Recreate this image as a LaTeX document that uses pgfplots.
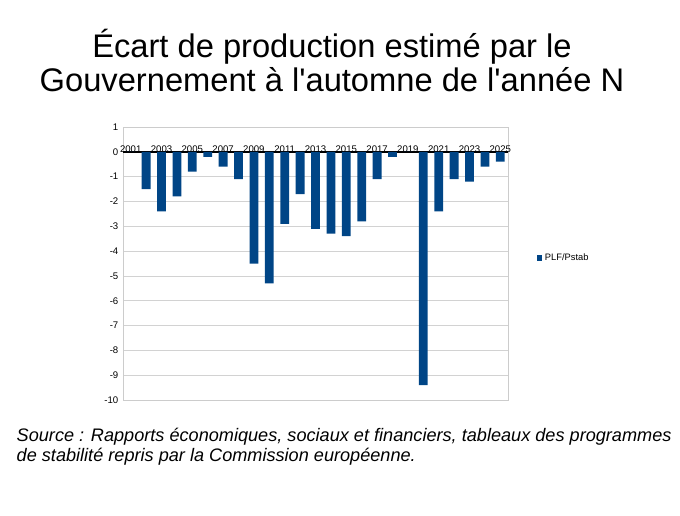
\documentclass[border=0pt]{standalone}
\usepackage{pgfplots}
\pgfplotsset{compat=1.18}
\usepackage{fontspec}
\setmainfont{Liberation Sans}
\definecolor{bleu}{HTML}{004586}
\begin{document}
\begin{tikzpicture}
\path (0,0) rectangle (510pt,386.25pt);
\node[font=\fontsize{24.5}{25}\selectfont, align=center] at (249pt,341pt) {Écart de production estimé par le\\Gouvernement à l\textquotesingle automne de l\textquotesingle année N};
\node[font=\fontsize{13.6}{15}\selectfont\itshape, align=left, anchor=north west] at (9pt,69pt) {Source : Rapports économiques, sociaux et financiers, tableaux des programmes\\de stabilité repris par la Commission européenne.};
\begin{axis}[at={(92.25pt,86.25pt)}, anchor=south west, scale only axis,
 width=288.75pt, height=204.75pt,
 ymin=-10, ymax=1, ytick={-10,...,1},
 xmin=2000.5, xmax=2025.5,
 xtick={2001,2003,...,2025},
 x tick label style={/pgf/number format/1000 sep={}},
 /pgf/number format/assume math mode=true,
 tick label style={font=\fontsize{7.2}{8}\selectfont},
 xticklabel style={anchor=south, yshift=182pt},
 ymajorgrids, grid style={gray!35},
 axis line style={gray!40}, tick style={draw=none},
 extra y ticks={0}, extra y tick labels={},
 extra y tick style={grid style={black, line width=1.5pt}},
 legend style={at={(1.065,0.52)}, anchor=west, draw=none, font=\fontsize{7}{8}\selectfont},
 legend image code/.code={\fill[bleu] (0,-0.08cm) rectangle (0.13cm,0.08cm);},
 ]
\addplot[ybar, bar width=6.6pt, fill=bleu, draw=none] coordinates {
(2001,0) (2002,-1.5) (2003,-2.4) (2004,-1.8) (2005,-0.8) (2006,-0.2) (2007,-0.6) (2008,-1.1)
(2009,-4.5) (2010,-5.3) (2011,-2.9) (2012,-1.7) (2013,-3.1) (2014,-3.3) (2015,-3.4) (2016,-2.8)
(2017,-1.1) (2018,-0.2) (2019,0) (2020,-9.4) (2021,-2.4) (2022,-1.1) (2023,-1.2) (2024,-0.6) (2025,-0.4)};
\addlegendentry{PLF/Pstab}
\end{axis}
\end{tikzpicture}
\end{document}
